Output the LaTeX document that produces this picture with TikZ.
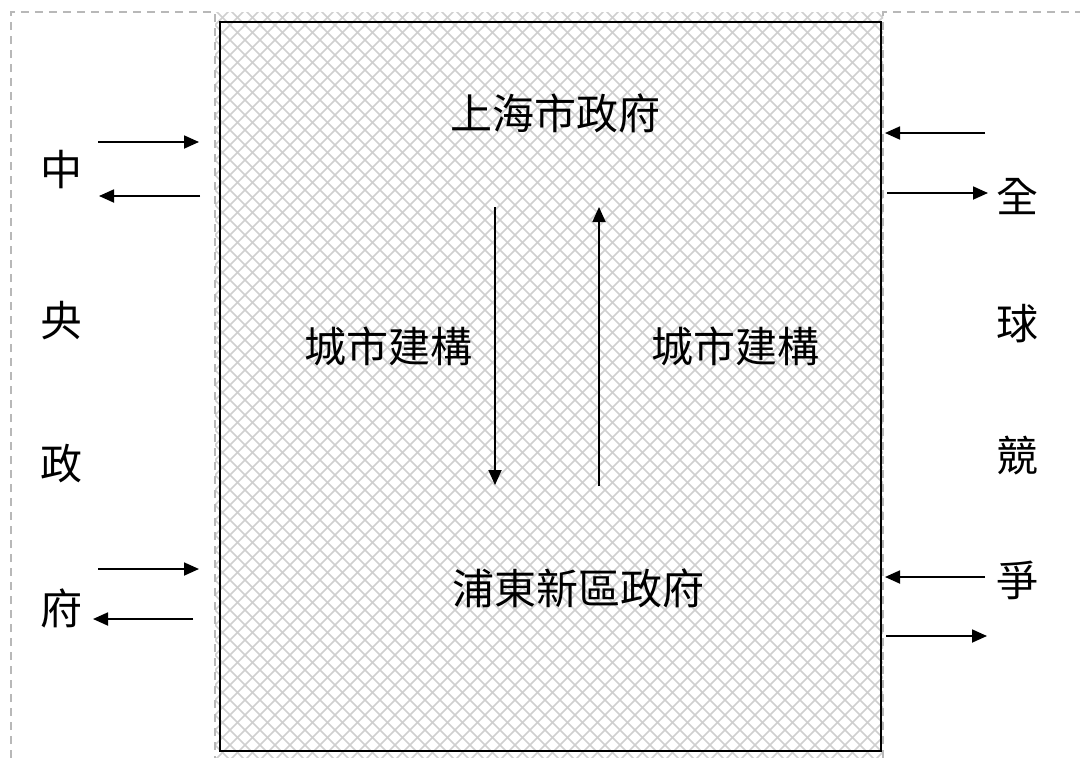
\documentclass[tikz,border=0pt]{standalone}
\usepackage{fontspec}
\newfontfamily\cjk{Noto Sans CJK TC}
\usetikzlibrary{arrows.meta}
\begin{document}
\begin{tikzpicture}[x=1pt,y=-1pt,
  hatch/.style={draw=black!19,line width=1.5pt},
  frame/.style={draw=black!28,line width=1.3pt,dash pattern=on 8pt off 6pt},
  lbl/.style={inner sep=0pt,font=\cjk\fontsize{42}{50}\selectfont},
  flow/.style={line width=1.8pt,-{Triangle[length=15pt,width=13pt]}},
  box/.style={draw=black,line width=1.8pt}]
\useasboundingbox (0,0) rectangle (1080,758);
% hatched field
\begin{scope}
\clip (215,12) rectangle (883,758);
\foreach \c in {0,15,...,1700} {
  \draw[hatch] (\c,0) -- ++(-800,800);
  \draw[hatch] (\c-800,0) -- ++(800,800);
}
\end{scope}
% dashed frame
\draw[frame] (11,758) -- (11,12) -- (215,12) -- (215,758);
\draw[frame] (883,758) -- (883,12) -- (1080,12);
% main box
\draw[box] (220,22) rectangle (881,751);
% labels
\node[lbl] (shanghai) at (555,113) {上海市政府};
\node[lbl] (pudong) at (578,588) {浦東新區政府};
\node[lbl] (buildL) at (388,346) {城市建構};
\node[lbl] (buildR) at (735,346) {城市建構};
\node[lbl] (c1) at (61,170) {中};
\node[lbl] (c2) at (61,321) {央};
\node[lbl] (c3) at (61,464) {政};
\node[lbl] (c4) at (61,608) {府};
\node[lbl] (g1) at (1017,197) {全};
\node[lbl] (g2) at (1017,324) {球};
\node[lbl] (g3) at (1017,456) {競};
\node[lbl] (g4) at (1017,580) {爭};
% coordinates for arrow ends
\coordinate (dA) at (495,207); \coordinate (dB) at (495,485);
\coordinate (uA) at (599,486); \coordinate (uB) at (599,207);
\coordinate (l1a) at (98,142);  \coordinate (l1b) at (199,142);
\coordinate (l2a) at (200,196); \coordinate (l2b) at (99,196);
\coordinate (l3a) at (98,569);  \coordinate (l3b) at (199,569);
\coordinate (l4a) at (193,619); \coordinate (l4b) at (93,619);
\coordinate (r1a) at (985,133); \coordinate (r1b) at (885,133);
\coordinate (r2a) at (887,193); \coordinate (r2b) at (988,193);
\coordinate (r3a) at (985,577); \coordinate (r3b) at (885,577);
\coordinate (r4a) at (886,636); \coordinate (r4b) at (987,636);
% arrows
\draw[flow] (dA) -- (dB);
\draw[flow] (uA) -- (uB);
\draw[flow] (l1a) -- (l1b);
\draw[flow] (l2a) -- (l2b);
\draw[flow] (l3a) -- (l3b);
\draw[flow] (l4a) -- (l4b);
\draw[flow] (r1a) -- (r1b);
\draw[flow] (r2a) -- (r2b);
\draw[flow] (r3a) -- (r3b);
\draw[flow] (r4a) -- (r4b);
\end{tikzpicture}
\end{document}
